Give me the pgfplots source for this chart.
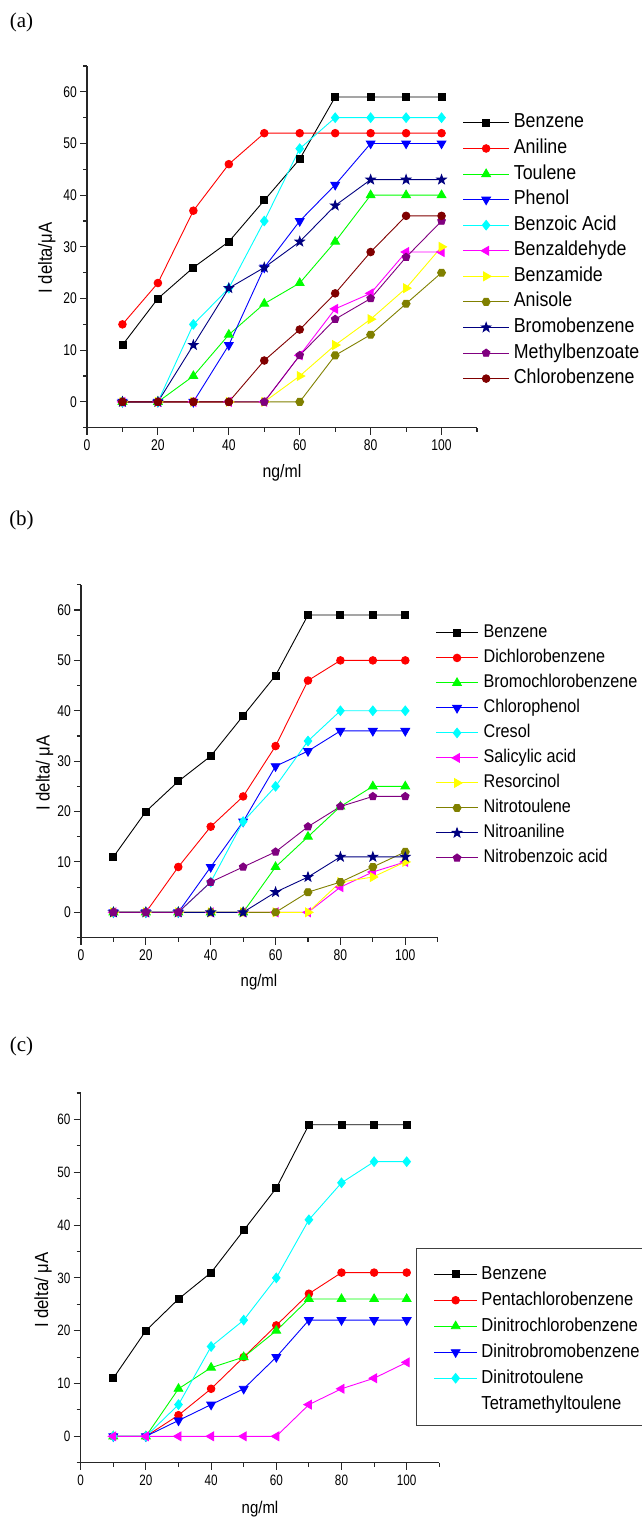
\documentclass[border=0pt]{standalone}
\usepackage{fontspec}
\setmainfont{Liberation Sans}
\newfontfamily\cond[FakeStretch=0.88]{Liberation Sans}
\newfontfamily\tcond[FakeStretch=0.78]{Liberation Sans}
\newfontfamily\serif{Liberation Serif}
\usepackage{pgfplots}
\pgfplotsset{compat=1.18}
\usetikzlibrary{plotmarks}

\definecolor{oblack}{HTML}{000000}
\definecolor{ored}{HTML}{FF0000}
\definecolor{ogreen}{HTML}{00FF00}
\definecolor{oblue}{HTML}{0000FF}
\definecolor{ocyan}{HTML}{00FFFF}
\definecolor{omagenta}{HTML}{FF00FF}
\definecolor{oyellow}{HTML}{FFFF00}
\definecolor{oolive}{HTML}{808000}
\definecolor{onavy}{HTML}{000080}
\definecolor{opurple}{HTML}{800080}
\definecolor{owine}{HTML}{800000}

% filled five-pointed star
\pgfdeclareplotmark{fstar}{%
  \pgfpathmoveto{\pgfpointpolar{90}{1.25\pgfplotmarksize}}%
  \pgfpathlineto{\pgfpointpolar{126}{0.5\pgfplotmarksize}}%
  \pgfpathlineto{\pgfpointpolar{162}{1.25\pgfplotmarksize}}%
  \pgfpathlineto{\pgfpointpolar{198}{0.5\pgfplotmarksize}}%
  \pgfpathlineto{\pgfpointpolar{234}{1.25\pgfplotmarksize}}%
  \pgfpathlineto{\pgfpointpolar{270}{0.5\pgfplotmarksize}}%
  \pgfpathlineto{\pgfpointpolar{306}{1.25\pgfplotmarksize}}%
  \pgfpathlineto{\pgfpointpolar{342}{0.5\pgfplotmarksize}}%
  \pgfpathlineto{\pgfpointpolar{18}{1.25\pgfplotmarksize}}%
  \pgfpathlineto{\pgfpointpolar{54}{0.5\pgfplotmarksize}}%
  \pgfpathclose\pgfusepathqfillstroke}
% filled hexagon
\pgfdeclareplotmark{fhex}{%
  \pgfpathmoveto{\pgfpointpolar{0}{\pgfplotmarksize}}%
  \pgfpathlineto{\pgfpointpolar{60}{\pgfplotmarksize}}%
  \pgfpathlineto{\pgfpointpolar{120}{\pgfplotmarksize}}%
  \pgfpathlineto{\pgfpointpolar{180}{\pgfplotmarksize}}%
  \pgfpathlineto{\pgfpointpolar{240}{\pgfplotmarksize}}%
  \pgfpathlineto{\pgfpointpolar{300}{\pgfplotmarksize}}%
  \pgfpathclose\pgfusepathqfillstroke}
% filled diamond, a little taller than wide
\pgfdeclareplotmark{fdiam}{%
  \pgfpathmoveto{\pgfpoint{0pt}{1.25\pgfplotmarksize}}%
  \pgfpathlineto{\pgfpoint{\pgfplotmarksize}{0pt}}%
  \pgfpathlineto{\pgfpoint{0pt}{-1.25\pgfplotmarksize}}%
  \pgfpathlineto{\pgfpoint{-\pgfplotmarksize}{0pt}}%
  \pgfpathclose\pgfusepathqfillstroke}

\pgfplotsset{
  origin/.style={
    scale only axis, axis lines*=left, tick align=outside,
    xmin=0, xmax=110, ymin=-5, ymax=65,
    xtick={0,20,...,100}, minor xtick={10,30,...,110},
    ytick={0,10,...,60}, minor ytick={-5,5,...,65},
    major tick length=7pt, minor tick length=4pt,
    axis line style={line width=1.2pt, black!85},
    tick style={line width=1.1pt, black!85},
    /pgf/number format/assume math mode=true,
    xticklabel style={inner sep=0pt, yshift=-5pt},
    yticklabel style={inner sep=0pt, xshift=-3pt},
    legend cell align=left,
    legend style={draw=none, fill=none, inner sep=0pt, outer sep=0pt,
      anchor=north west, row sep=0pt},
    every axis plot/.append style={line width=0.9pt},
  },
  sBk/.style={oblack, mark=square*, mark size=3.5pt, mark options={solid, fill=oblack}},
  sRd/.style={ored, mark=*, mark size=3.8pt, mark options={solid, fill=ored}},
  sGn/.style={ogreen, mark=triangle*, mark size=5pt, mark options={solid, fill=ogreen}},
  sBl/.style={oblue, mark=triangle*, mark size=5pt, mark options={solid, fill=oblue, rotate=180}},
  sCy/.style={ocyan, mark=fdiam, mark size=3.8pt, mark options={solid, fill=ocyan}},
  sMg/.style={omagenta, mark=triangle*, mark size=5pt, mark options={solid, fill=omagenta, rotate=90}},
  sYe/.style={oyellow, mark=triangle*, mark size=5pt, mark options={solid, fill=oyellow, rotate=-90}},
  sOl/.style={oolive, mark=fhex, mark size=4pt, mark options={solid, fill=oolive}},
  sNv/.style={onavy, mark=fstar, mark size=3.9pt, mark options={solid, fill=onavy}},
  sPu/.style={opurple, mark=pentagon*, mark size=4pt, mark options={solid, fill=opurple}},
  sWn/.style={owine, mark=*, mark size=3.8pt, mark options={solid, fill=owine}},
}

\begin{document}
\begin{tikzpicture}
\path[use as bounding box] (0pt,0pt) rectangle (641pt,-1520pt);

\node[font=\serif\fontsize{21}{21}\selectfont] at (21.5pt,-22.5pt) {(a)};
\node[font=\serif\fontsize{21}{21}\selectfont] at (21.5pt,-520pt) {(b)};
\node[font=\serif\fontsize{21}{21}\selectfont] at (21.5pt,-1046pt) {(c)};

% ---------- (a)
\begin{axis}[origin,
  at={(87pt,-427.7pt)}, anchor=south west,
  width=390pt, height=361.7pt,
  ticklabel style={font=\tcond\fontsize{15.5}{16}\selectfont},
  xlabel={ng/ml}, ylabel={I delta/μA},
  xlabel style={at={(axis description cs:0.5,-0.125)}, anchor=center, font=\cond\fontsize{18}{18}\selectfont},
  ylabel style={at={(axis description cs:-0.1033,0.469)}, anchor=center, font=\cond\fontsize{19}{19}\selectfont},
  legend style={at={(0.9633,0.878)}, font=\cond\fontsize{20.2}{20}\selectfont,
    nodes={inner sep=0pt, text height=17.8pt, text depth=7.77pt}, column sep=4.7pt},
  legend image code/.code={\draw[mark repeat=2,mark phase=2,#1] plot coordinates {(0pt,0pt) (23pt,0pt) (45.6pt,0pt)};},
]
\addplot[sBk] coordinates {(10,11)(20,20)(30,26)(40,31)(50,39)(60,47)(70,59)(80,59)(90,59)(100,59)};
\addplot[sRd] coordinates {(10,15)(20,23)(30,37)(40,46)(50,52)(60,52)(70,52)(80,52)(90,52)(100,52)};
\addplot[sGn] coordinates {(10,0)(20,0)(30,5)(40,13)(50,19)(60,23)(70,31)(80,40)(90,40)(100,40)};
\addplot[sBl] coordinates {(10,0)(20,0)(30,0)(40,11)(50,26)(60,35)(70,42)(80,50)(90,50)(100,50)};
\addplot[sCy] coordinates {(10,0)(20,0)(30,15)(40,22)(50,35)(60,49)(70,55)(80,55)(90,55)(100,55)};
\addplot[sMg] coordinates {(10,0)(20,0)(30,0)(40,0)(50,0)(60,9)(70,18)(80,21)(90,29)(100,29)};
\addplot[sYe] coordinates {(10,0)(20,0)(30,0)(40,0)(50,0)(60,5)(70,11)(80,16)(90,22)(100,30)};
\addplot[sOl] coordinates {(10,0)(20,0)(30,0)(40,0)(50,0)(60,0)(70,9)(80,13)(90,19)(100,25)};
\addplot[sNv] coordinates {(10,0)(20,0)(30,11)(40,22)(50,26)(60,31)(70,38)(80,43)(90,43)(100,43)};
\addplot[sPu] coordinates {(10,0)(20,0)(30,0)(40,0)(50,0)(60,9)(70,16)(80,20)(90,28)(100,35)};
\addplot[sWn] coordinates {(10,0)(20,0)(30,0)(40,0)(50,8)(60,14)(70,21)(80,29)(90,36)(100,36)};
\legend{Benzene, Aniline, Toulene, Phenol, Benzoic Acid, Benzaldehyde, Benzamide, Anisole, Bromobenzene, Methylbenzoate, Chlorobenzene}
\end{axis}

% ---------- (b)
\begin{axis}[origin,
  at={(81pt,-937.5pt)}, anchor=south west,
  width=356.7pt, height=352.7pt,
  ticklabel style={font=\tcond\fontsize{15.5}{16}\selectfont},
  xlabel={ng/ml}, ylabel={I delta/ μA},
  xlabel style={at={(axis description cs:0.499,-0.1253)}, anchor=center, font=\cond\fontsize{17}{17}\selectfont},
  ylabel style={at={(axis description cs:-0.1018,0.4664)}, anchor=center, font=\cond\fontsize{19}{19}\selectfont},
  legend style={at={(0.9952,0.899)}, font=\cond\fontsize{18.4}{19}\selectfont,
    nodes={inner sep=0pt, text height=17.2pt, text depth=7.8pt}, column sep=5.4pt},
  legend image code/.code={\draw[mark repeat=2,mark phase=2,#1] plot coordinates {(0pt,0pt) (20.6pt,0pt) (41.3pt,0pt)};},
]
\addplot[sBk] coordinates {(10,11)(20,20)(30,26)(40,31)(50,39)(60,47)(70,59)(80,59)(90,59)(100,59)};
\addplot[sRd] coordinates {(10,0)(20,0)(30,9)(40,17)(50,23)(60,33)(70,46)(80,50)(90,50)(100,50)};
\addplot[sGn] coordinates {(10,0)(20,0)(30,0)(40,0)(50,0)(60,9)(70,15)(80,21)(90,25)(100,25)};
\addplot[sBl] coordinates {(10,0)(20,0)(30,0)(40,9)(50,18)(60,29)(70,32)(80,36)(90,36)(100,36)};
\addplot[sCy] coordinates {(10,0)(20,0)(30,0)(40,6)(50,18)(60,25)(70,34)(80,40)(90,40)(100,40)};
\addplot[sMg] coordinates {(10,0)(20,0)(30,0)(40,0)(50,0)(60,0)(70,0)(80,5)(90,8)(100,10)};
\addplot[sYe] coordinates {(10,0)(20,0)(30,0)(40,0)(50,0)(60,0)(70,0)(80,6)(90,7)(100,10)};
\addplot[sOl] coordinates {(10,0)(20,0)(30,0)(40,0)(50,0)(60,0)(70,4)(80,6)(90,9)(100,12)};
\addplot[sNv] coordinates {(10,0)(20,0)(30,0)(40,0)(50,0)(60,4)(70,7)(80,11)(90,11)(100,11)};
\addplot[sPu] coordinates {(10,0)(20,0)(30,0)(40,6)(50,9)(60,12)(70,17)(80,21)(90,23)(100,23)};
\legend{Benzene, Dichlorobenzene, Bromochlorobenzene, Chlorophenol, Cresol, Salicylic acid, Resorcinol, Nitrotoulene, Nitroaniline, Nitrobenzoic acid}
\end{axis}

% ---------- (c)
\draw[line width=1.2pt, black!75] (416.7pt,-1248.3pt) rectangle (700pt,-1425.7pt);
\begin{axis}[origin,
  at={(80.7pt,-1462.7pt)}, anchor=south west,
  width=358.6pt, height=369.7pt,
  ticklabel style={font=\tcond\fontsize{15}{15}\selectfont},
  xlabel={ng/ml}, ylabel={I delta/ μA},
  xlabel style={at={(axis description cs:0.5,-0.125)}, anchor=center, font=\cond\fontsize{17}{17}\selectfont},
  ylabel style={at={(axis description cs:-0.105,0.467)}, anchor=center, font=\cond\fontsize{19}{19}\selectfont},
  legend style={at={(0.9852,0.545)}, font=\cond\fontsize{18.8}{19}\selectfont,
    nodes={inner sep=0pt, text height=18pt, text depth=8pt}, column sep=4.1pt},
  legend image code/.code={\draw[mark repeat=2,mark phase=2,#1] plot coordinates {(0pt,0pt) (21.2pt,0pt) (42.5pt,0pt)};},
]
\addplot[sBk] coordinates {(10,11)(20,20)(30,26)(40,31)(50,39)(60,47)(70,59)(80,59)(90,59)(100,59)};
\addlegendentry{Benzene}
\addplot[sRd] coordinates {(10,0)(20,0)(30,4)(40,9)(50,15)(60,21)(70,27)(80,31)(90,31)(100,31)};
\addlegendentry{Pentachlorobenzene}
\addplot[sGn] coordinates {(10,0)(20,0)(30,9)(40,13)(50,15)(60,20)(70,26)(80,26)(90,26)(100,26)};
\addlegendentry{Dinitrochlorobenzene}
\addplot[sBl] coordinates {(10,0)(20,0)(30,3)(40,6)(50,9)(60,15)(70,22)(80,22)(90,22)(100,22)};
\addlegendentry{Dinitrobromobenzene}
\addplot[sCy] coordinates {(10,0)(20,0)(30,6)(40,17)(50,22)(60,30)(70,41)(80,48)(90,52)(100,52)};
\addlegendentry{Dinitrotoulene}
\addplot[sMg, forget plot] coordinates {(10,0)(20,0)(30,0)(40,0)(50,0)(60,0)(70,6)(80,9)(90,11)(100,14)};
\addlegendimage{opacity=0}
\addlegendentry{Tetramethyltoulene}
\end{axis}
\end{tikzpicture}
\end{document}
